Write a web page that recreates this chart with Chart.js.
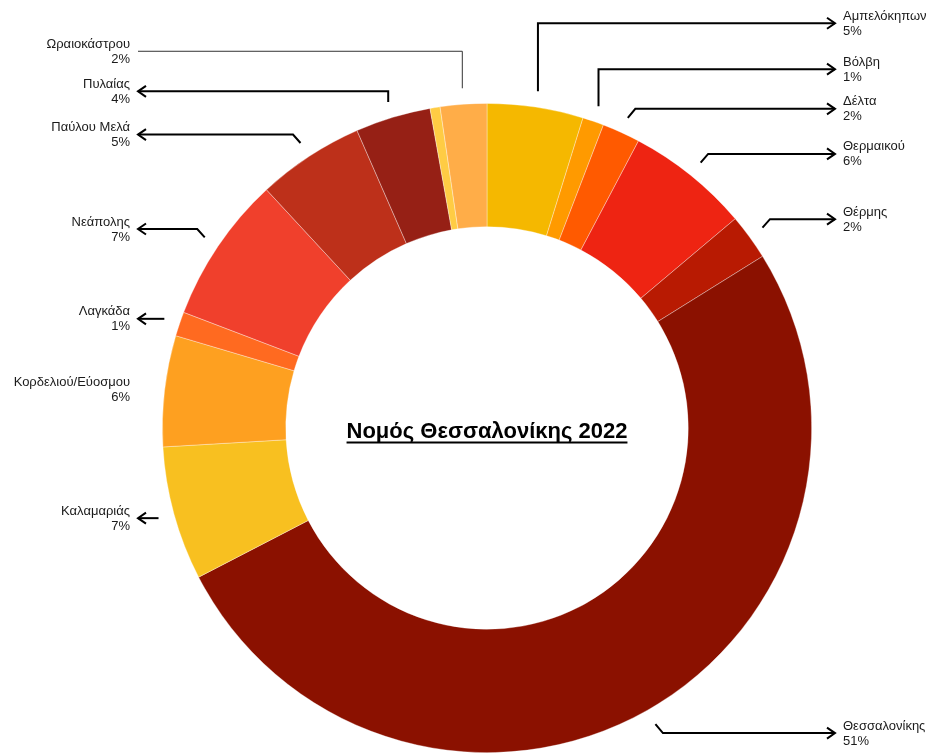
<!DOCTYPE html>
<html>
<head>
<meta charset="utf-8">
<script src="https://cdn.jsdelivr.net/npm/chart.js@4/dist/chart.umd.min.js"></script>
<style>
html,body{margin:0;padding:0;background:#fff;overflow:hidden;}
canvas{display:block;}
</style>
</head>
<body>
<canvas id="c" width="932" height="756"></canvas>
<script>
// ---- data ----
const categories = ['Αμπελόκηπων','Βόλβη','Δέλτα','Θερμαικού','Θέρμης','Θεσσαλονίκης','Καλαμαριάς','Κορδελιού/Εύοσμου','Λαγκάδα','Νεάπολης','Παύλου Μελά','Πυλαίας','Χαλκηδόνος','Ωραιοκάστρου'];
const shares = [4.78, 1.06, 1.89, 6.13, 2.28, 51.29, 6.67, 5.52, 1.21, 7.32, 5.33, 3.75, 0.5, 2.31];
const sliceColors = ['#F5B800','#FF9A00','#FF5A00','#EE2412','#B81A02','#8B1100','#F8C020','#FEA020','#FF6A20','#F0402C','#BD301A','#962015','#FFCC44','#FFAD48'];
const chartTitle = 'Νομός Θεσσαλονίκης 2022';

// ---- label layout (styling, not data) ----
const labelLayout = {
  anchorGap: 16,
  // vertical shift of each label from its slice anchor (px); null = no label
  shift: [-68, -37, -9, -8.8, -8.5, 9, 0, 0, 0, -8.3, -8.4, -10.7, null, -37],
  connector: ['arrow','arrow','arrow','arrow','arrow','arrow','arrow','none','arrow','arrow','arrow','arrow','none','thin'],
  rightArrowX: 835, rightTextX: 843,
  leftArrowX: 138, leftTextX: 130
};

const total = shares.reduce((a,b)=>a+b,0);

const labelPlugin = {
  id: 'outLabels',
  afterDatasetsDraw(chart) {
    const ctx = chart.ctx;
    const meta = chart.getDatasetMeta(0);
    ctx.save();
    meta.data.forEach((arc, i) => {
      const sh = labelLayout.shift[i];
      if (sh === null) return;
      const p = arc.getProps(['x','y','startAngle','endAngle','outerRadius'], true);
      const mid = (p.startAngle + p.endAngle) / 2;
      const r = p.outerRadius + labelLayout.anchorGap;
      const sx = p.x + Math.cos(mid) * r;
      const sy = p.y + Math.sin(mid) * r;
      const right = Math.cos(mid) >= 0;
      const side = right ? 1 : -1;
      const ly = sy + sh;
      const endX = right ? labelLayout.rightArrowX : labelLayout.leftArrowX;
      const type = labelLayout.connector[i];
      if (type !== 'none') {
        ctx.beginPath();
        ctx.moveTo(sx, sy);
        let ex = sx;
        if (sh !== 0 && Math.abs(sh) <= 9.5) ex = sx + side * 7.5;
        ctx.lineTo(ex, ly);
        ctx.lineTo(endX, ly);
        ctx.lineWidth = type === 'thin' ? 1 : 2;
        ctx.strokeStyle = type === 'thin' ? '#333' : '#000';
        ctx.lineJoin = 'miter';
        ctx.stroke();
        if (type === 'arrow') {
          ctx.beginPath();
          ctx.moveTo(endX - side * 8, ly - 5.5);
          ctx.lineTo(endX, ly);
          ctx.lineTo(endX - side * 8, ly + 5.5);
          ctx.lineWidth = 2;
          ctx.strokeStyle = '#000';
          ctx.stroke();
        }
      }
      const pct = Math.round(shares[i] / total * 100) + '%';
      ctx.font = '13px "Liberation Sans", Arial, sans-serif';
      ctx.fillStyle = '#1a1a1a';
      ctx.textBaseline = 'middle';
      ctx.textAlign = right ? 'left' : 'right';
      const tx = right ? labelLayout.rightTextX : labelLayout.leftTextX;
      ctx.fillText(categories[i], tx, ly - 7);
      ctx.fillText(pct, tx, ly + 8);
    });
    // centre title
    const a0 = meta.data[0];
    const cx = a0.x, cy = a0.y;
    ctx.font = 'bold 22px "Liberation Sans", Arial, sans-serif';
    ctx.fillStyle = '#000';
    ctx.textAlign = 'center';
    ctx.textBaseline = 'alphabetic';
    ctx.fillText(chartTitle, cx, cy + 10);
    const w = ctx.measureText(chartTitle).width;
    ctx.beginPath();
    ctx.moveTo(cx - w / 2, cy + 14.5);
    ctx.lineTo(cx + w / 2, cy + 14.5);
    ctx.lineWidth = 2;
    ctx.strokeStyle = '#000';
    ctx.stroke();
    ctx.restore();
  }
};

new Chart(document.getElementById('c'), {
  type: 'doughnut',
  data: {
    labels: categories,
    datasets: [{
      data: shares,
      backgroundColor: sliceColors,
      borderColor: 'rgba(255,255,255,0.45)',
      borderWidth: 0.75
    }]
  },
  options: {
    responsive: false,
    animation: false,
    devicePixelRatio: 1,
    cutout: '62%',
    layout: { padding: { left: 162, right: 120, top: 103, bottom: 3 } },
    plugins: { legend: { display: false }, tooltip: { enabled: false }, title: { display: false } }
  },
  plugins: [labelPlugin]
});
</script>
</body>
</html>
